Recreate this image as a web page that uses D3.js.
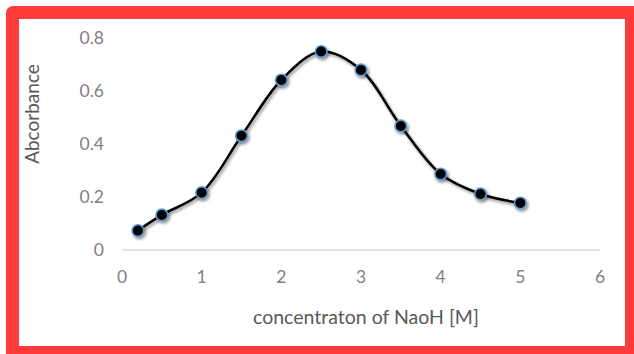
<!DOCTYPE html>
<html><head><meta charset="utf-8">
<script src="https://cdn.jsdelivr.net/npm/d3@7"></script>
<style>body{margin:0;background:#fff;}svg{display:block;}</style>
</head><body>
<svg id="c" width="634" height="354"></svg>
<script>
const xValues = [0.2, 0.5, 1, 1.5, 2, 2.5, 3, 3.5, 4, 4.5, 5];
const absorbance = [0.073, 0.132, 0.216, 0.43, 0.64, 0.747, 0.678, 0.467, 0.286, 0.211, 0.177];
const xTicks = [0, 1, 2, 3, 4, 5, 6];
const yTicks = [0, 0.2, 0.4, 0.6, 0.8];
const xTitle = "concentraton of NaoH [M]";
const yTitle = "Abcorbance";

const svg = d3.select("#c");
const defs = svg.append("defs");
const f = defs.append("filter").attr("id","sh").attr("x","-50%").attr("y","-50%").attr("width","200%").attr("height","200%");
f.append("feDropShadow").attr("dx",1.5).attr("dy",2).attr("stdDeviation",1.6).attr("flood-color","#000").attr("flood-opacity",0.45);

// red frame
svg.append("rect").attr("x",6).attr("y",6).attr("width",640).attr("height",360).attr("rx",7).attr("fill","#ff3b3b");
svg.append("rect").attr("x",19).attr("y",19).attr("width",606).attr("height",327).attr("fill","#fff");

const x = d3.scaleLinear().domain([0,6]).range([122,600]);
const y = d3.scaleLinear().domain([0,0.8]).range([250,37.5]);

// baseline
svg.append("line").attr("x1",x(0)).attr("x2",x(6)).attr("y1",y(0)).attr("y2",y(0))
  .attr("stroke","#d9d9d9").attr("stroke-width",1.5);

const font = "Lato, 'Open Sans', sans-serif";
svg.append("g").selectAll("text").data(xTicks).join("text")
  .attr("x",d=>x(d)).attr("y",277).attr("dy","0.35em").attr("text-anchor","middle")
  .attr("font-family",font).attr("font-size",17.5).attr("fill","#7f7f7f").text(d=>d);
svg.append("g").selectAll("text").data(yTicks).join("text")
  .attr("x",104).attr("y",d=>y(d)).attr("dy","0.35em").attr("text-anchor","end")
  .attr("font-family",font).attr("font-size",17.5).attr("fill","#7f7f7f").text(d=>d===0?"0":d.toFixed(1));

svg.append("text").attr("x",366).attr("y",317).attr("dy","0.35em").attr("text-anchor","middle")
  .attr("font-family",font).attr("font-size",19.5).attr("fill","#595959").text(xTitle);
svg.append("text").attr("transform","translate(32,114) rotate(-90)").attr("dy","0.35em").attr("text-anchor","middle")
  .attr("font-family",font).attr("font-size",19).attr("fill","#595959").text(yTitle);

const data = xValues.map((v,i)=>({x:v,y:absorbance[i]}));
const line = d3.line().x(d=>x(d.x)).y(d=>y(d.y)).curve(d3.curveCatmullRom.alpha(0.5));
svg.append("path").datum(data).attr("d",line).attr("fill","none").attr("stroke","#000")
  .attr("stroke-width",2.5).attr("filter","url(#sh)");
svg.append("g").attr("filter","url(#sh)").selectAll("circle").data(data).join("circle")
  .attr("cx",d=>x(d.x)).attr("cy",d=>y(d.y)).attr("r",5.8)
  .attr("fill","#000").attr("stroke","#5b9bd5").attr("stroke-width",1.6);
</script>
</body></html>
